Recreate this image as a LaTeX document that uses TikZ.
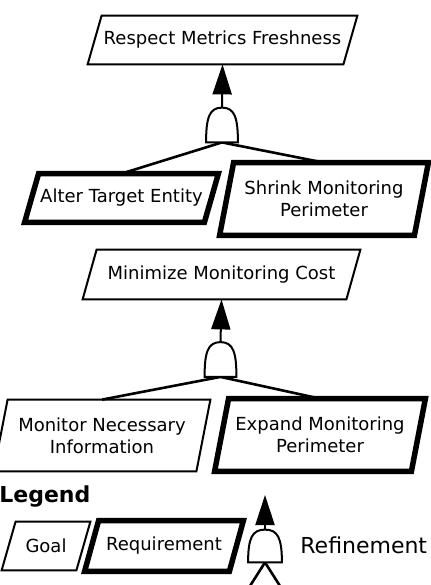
\documentclass[tikz,border=0pt]{standalone}
\usepackage{fontspec}
\setmainfont{DejaVu Sans}
\usepackage{tikz}
\usetikzlibrary{arrows.meta}

\begin{document}
\begin{tikzpicture}[x=0.5pt,y=-0.5pt,
    box/.style={rectangle, inner sep=0pt, align=center, font=\fontsize{9}{11}\selectfont},
    goalline/.style={line width=1pt, line join=miter},
    reqline/.style={line width=2.75pt, line join=miter},
    gate/.style={rectangle, inner sep=0pt, minimum width=15.5pt, minimum height=17pt},
    gateline/.style={line width=1pt},
    refarrow/.style={-{Triangle[length=15pt,width=9.5pt]}, line width=1pt},
    refline/.style={line width=1.3pt}]
    \useasboundingbox (0,0) rectangle (430,585);

    % first refinement
    \node[box, minimum width=134.5pt, minimum height=24pt] (rmf) at (222.5,40) {Respect Metrics Freshness};
    \node[gate] (g1) at (222,125) {};
    \node[box, minimum width=96.5pt, minimum height=24pt] (ate) at (121.5,198) {Alter Target Entity};
    \node[box, minimum width=104pt, minimum height=36pt] (smp) at (324,199) {Shrink Monitoring\\Perimeter};
    \draw[refarrow] (g1.north) -- (rmf.south);
    \draw[refline] (g1.south) -- (ate.north);
    \draw[refline] (g1.south) -- (smp.north);

    % second refinement
    \node[box, minimum width=138.5pt, minimum height=24.5pt] (mmc) at (221.5,274.5) {Minimize Monitoring Cost};
    \node[gate] (g2) at (220.5,359.5) {};
    \node[box, minimum width=108pt, minimum height=35.5pt] (mni) at (102,435.5) {Monitor Necessary\\Information};
    \node[box, minimum width=105pt, minimum height=36pt] (emp) at (320,435) {Expand Monitoring\\Perimeter};
    \draw[refarrow] (g2.north) -- (mmc.south);
    \draw[refline] (g2.south) -- (mni.north);
    \draw[refline] (g2.south) -- (emp.north);

    % legend
    \node[anchor=base west, inner sep=0pt, font=\fontsize{11}{13}\selectfont\bfseries] (leg) at (-1,502) {Legend};
    \node[box, minimum width=44pt, minimum height=24pt] (goal) at (46,546) {Goal};
    \node[box, minimum width=79pt, minimum height=25pt] (req) at (164,546) {Requirement};
    \node[gate, minimum width=16.5pt, minimum height=16pt] (g3) at (265,546) {};
    \coordinate (legtip) at (265,495);
    \coordinate (legl) at (243,597);
    \coordinate (legr) at (287,597);
    \draw[refarrow] (g3.north) -- (legtip);
    \draw[refline] (g3.south) -- (legl);
    \draw[refline] (g3.south) -- (legr);
    \node[anchor=base west, inner sep=0pt, font=\fontsize{11}{13}\selectfont] (refn) at (300,553) {Refinement};

    % outlines
    \foreach \n in {rmf,mmc,mni,goal}
        \draw[goalline] ([shift={(14,0)}]\n.north west) -- (\n.north east)
            -- ([shift={(-14,0)}]\n.south east) -- (\n.south west) -- cycle;
    \foreach \n in {ate,smp,emp,req}
        \draw[reqline] ([shift={(14,0)}]\n.north west) -- (\n.north east)
            -- ([shift={(-14,0)}]\n.south east) -- (\n.south west) -- cycle;
    \foreach \g in {g1,g2,g3}
        \draw[gateline, fill=white] (\g.south west) .. controls +(0,-24) and +(-13,0) .. (\g.north)
            .. controls +(13,0) and +(0,-24) .. (\g.south east) -- cycle;
\end{tikzpicture}
\end{document}
